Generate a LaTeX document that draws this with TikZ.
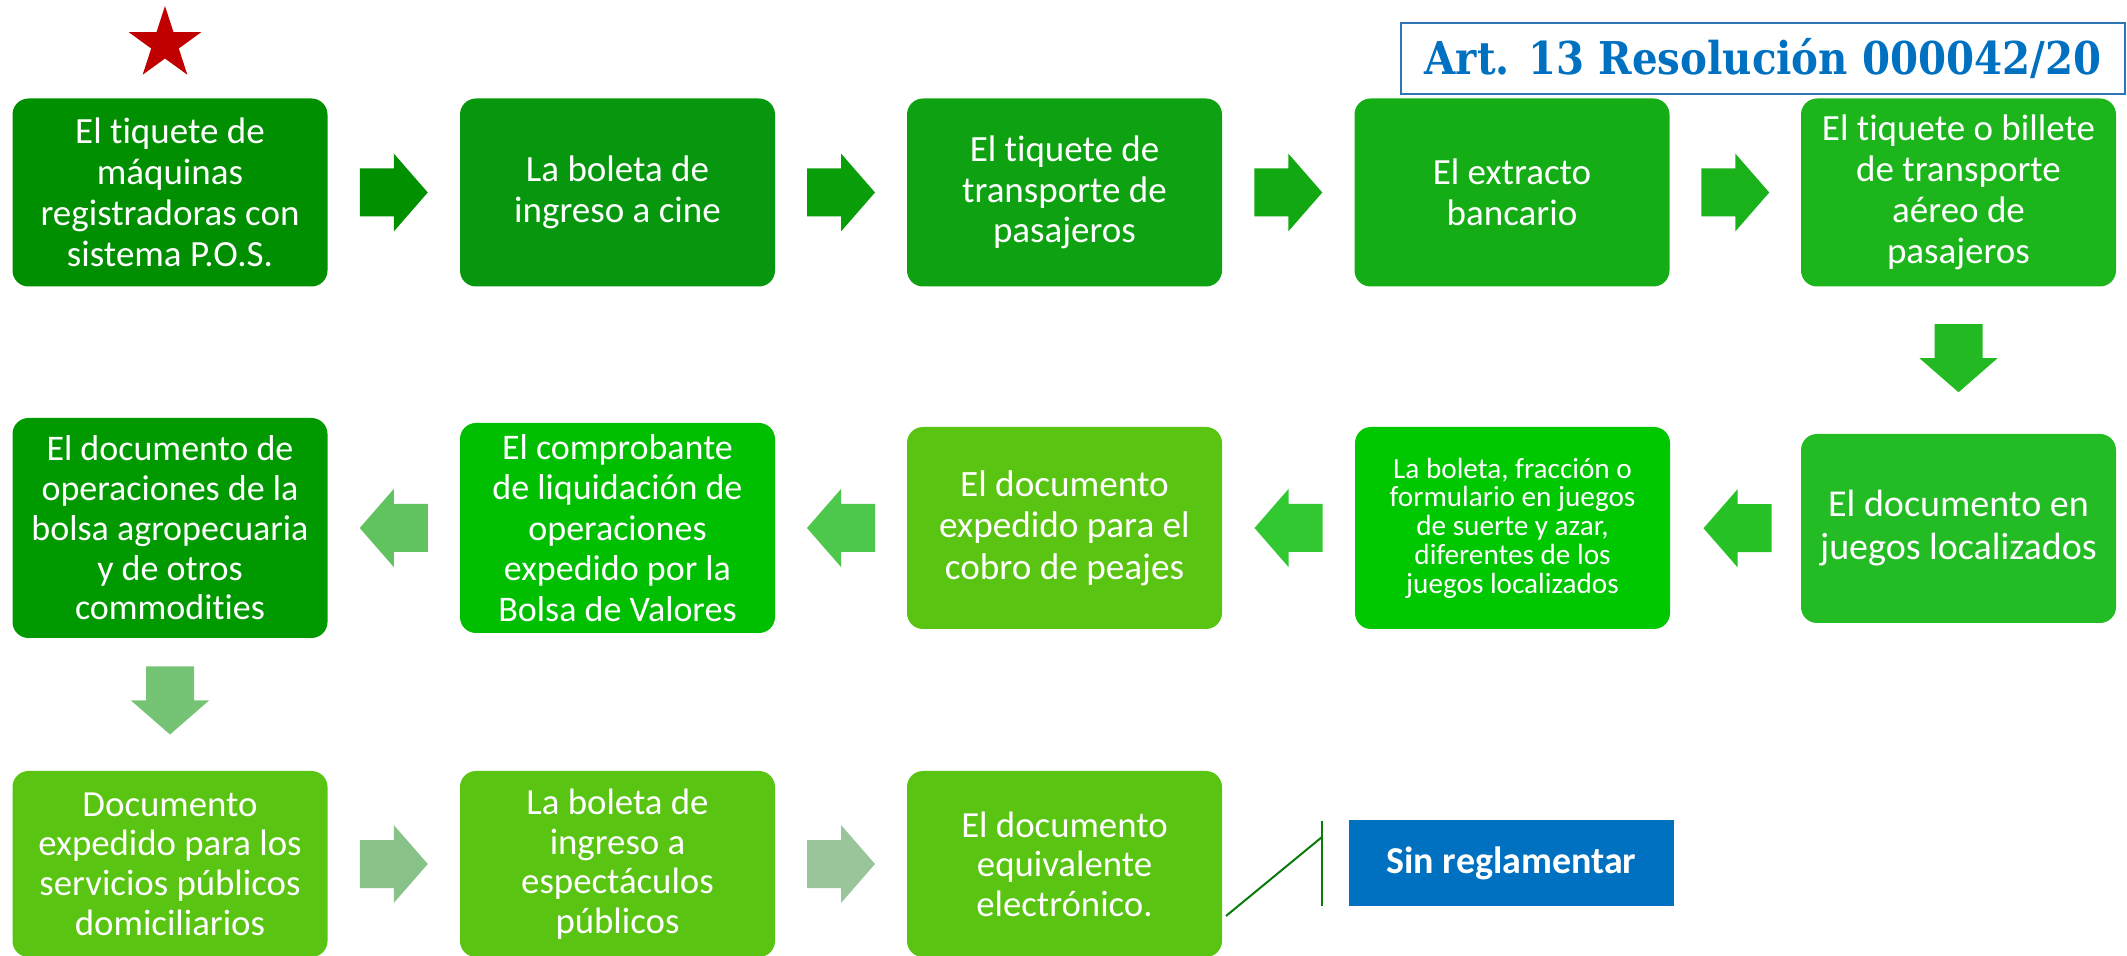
\documentclass[tikz,border=0pt]{standalone}
\usepackage{fontspec}
\usepackage{graphicx}
\setmainfont{Carlito}[Ligatures=NoCommon]
\newfontfamily\titlefont{DejaVu Serif}
\usetikzlibrary{shapes.geometric,calc}
\definecolor{cA1}{HTML}{008F00}
\definecolor{cA2}{HTML}{07970F}
\definecolor{cA3}{HTML}{0EA212}
\definecolor{cA4}{HTML}{15AD16}
\definecolor{cA5}{HTML}{1CB51C}
\definecolor{cB5}{HTML}{24BC24}
\definecolor{cB4}{HTML}{00C800}
\definecolor{cB3}{HTML}{5AC413}
\definecolor{cB2}{HTML}{00BF00}
\definecolor{cB1}{HTML}{009A00}
\definecolor{cC}{HTML}{5AC413}
\definecolor{aA1}{HTML}{009000}
\definecolor{aA2}{HTML}{0A9E0A}
\definecolor{aA3}{HTML}{12A812}
\definecolor{aA4}{HTML}{1AB21A}
\definecolor{aD1}{HTML}{22B922}
\definecolor{aB4}{HTML}{26C226}
\definecolor{aB3}{HTML}{32C832}
\definecolor{aB2}{HTML}{4DC84D}
\definecolor{aB1}{HTML}{60C360}
\definecolor{aD2}{HTML}{75C475}
\definecolor{aC1}{HTML}{88C288}
\definecolor{aC2}{HTML}{9AC49A}
\definecolor{sinblue}{HTML}{0070C0}
\definecolor{titleblue}{HTML}{0070C0}
\definecolor{titleborder}{HTML}{2E75B6}
\definecolor{starred}{HTML}{C00000}
\definecolor{calloutgreen}{HTML}{0A7A0A}
\tikzset{
  box/.style={rounded corners=8pt, minimum width=157.5pt, text=white, align=center,
    inner sep=0pt, font=\fontsize{18.5}{20.4}\selectfont},
  pics/blockarrow/.style={code={
    \fill[#1] (-34,-24) -- (0,-24) -- (0,-39) -- (34,0) -- (0,39) -- (0,24) -- (-34,24) -- cycle;}},
  callout/.style={draw=calloutgreen, line width=1pt}
}
\begin{document}
\begin{tikzpicture}[x=0.5pt,y=-0.5pt]
\useasboundingbox (0,0) rectangle (2127,956);

% star
\node[star, star points=5, star point ratio=2.618, fill=starred, minimum size=38pt, inner sep=0pt] (star) at (165,44) {};

% title
\node[draw=titleborder, line width=0.75pt, minimum width=362pt, minimum height=35.5pt, inner sep=0pt,
  text=titleblue, font=\titlefont\bfseries\fontsize{22.6}{26}\selectfont] (title) at (1763,58.5)
  {\resizebox{338.5pt}{\height}{Art. 13 Resolución 000042/20}};

% row 1
\node[box, fill=cA1, minimum height=94pt] (a1) at (170,192.5) {El tiquete de\\máquinas\\registradoras con\\sistema P.O.S.};
\node[box, fill=cA2, minimum height=94pt] (a2) at (617.5,192.5) {La boleta de\\ingreso a cine};
\node[box, fill=cA3, minimum height=94pt] (a3) at (1064.5,192.5) {El tiquete de\\transporte de\\pasajeros};
\node[box, fill=cA4, minimum height=94pt] (a4) at (1512,192.5) {El extracto\\bancario};
\node[box, fill=cA5, minimum height=94pt] (a5) at (1958.5,192.5) {El tiquete o billete\\de transporte\\aéreo de\\pasajeros};

% row 2
\node[box, fill=cB5, minimum height=94.5pt, font=\fontsize{19}{21.5}\selectfont] (b5) at (1958.5,528.5) {El documento en\\juegos localizados};
\node[box, fill=cB4, minimum height=101pt, font=\fontsize{14.6}{14.4}\selectfont] (b4) at (1512.5,528) {La boleta, fracción o\\formulario en juegos\\de suerte y azar,\\diferentes de los\\juegos localizados};
\node[box, fill=cB3, minimum height=101pt, font=\fontsize{18.6}{20.8}\selectfont] (b3) at (1064.5,528) {El documento\\expedido para el\\cobro de peajes};
\node[box, fill=cB2, minimum height=105pt, font=\fontsize{18}{20.3}\selectfont] (b2) at (617.5,528) {El comprobante\\de liquidación de\\operaciones\\expedido por la\\Bolsa de Valores};
\node[box, fill=cB1, minimum height=110pt, font=\fontsize{18}{19.9}\selectfont] (b1) at (170,528) {El documento de\\operaciones de la\\bolsa agropecuaria\\y de otros\\commodities};

% row 3
\node[box, fill=cC, minimum height=93pt, font=\fontsize{18.4}{19.8}\selectfont] (c1) at (170,864) {Documento\\expedido para los\\servicios públicos\\domiciliarios};
\node[box, fill=cC, minimum height=93pt, font=\fontsize{18.4}{19.8}\selectfont] (c2) at (617.5,864) {La boleta de\\ingreso a\\espectáculos\\públicos};
\node[box, fill=cC, minimum height=93pt, font=\fontsize{18.4}{19.8}\selectfont] (c3) at (1064.5,864) {El documento\\equivalente\\electrónico.};

\node[fill=sinblue, minimum width=162.5pt, minimum height=43pt, inner sep=0pt, text=white,
  font=\bfseries\fontsize{19}{22}\selectfont] (sin) at (1511.5,863) {Sin reglamentar};

% block arrows
\pic at ($(a1.east)!0.5!(a2.west)$) {blockarrow=aA1};
\pic at ($(a2.east)!0.5!(a3.west)$) {blockarrow=aA2};
\pic at ($(a3.east)!0.5!(a4.west)$) {blockarrow=aA3};
\pic at ($(a4.east)!0.5!(a5.west)$) {blockarrow=aA4};
\pic[rotate=-90] at ($(a5.south)!0.5!(b5.north)+(0,-2)$) {blockarrow=aD1};
\pic[rotate=180] at ($(b5.west)!0.5!(b4.east)+(2,0)$) {blockarrow=aB4};
\pic[rotate=180] at ($(b4.west)!0.5!(b3.east)$) {blockarrow=aB3};
\pic[rotate=180] at ($(b3.west)!0.5!(b2.east)$) {blockarrow=aB2};
\pic[rotate=180] at ($(b2.west)!0.5!(b1.east)$) {blockarrow=aB1};
\pic[rotate=-90] at ($(b1.south)!0.5!(c1.north)+(0,-4)$) {blockarrow=aD2};
\pic at ($(c1.east)!0.5!(c2.west)$) {blockarrow=aC1};
\pic at ($(c2.east)!0.5!(c3.west)$) {blockarrow=aC2};

% callout bracket
\coordinate (k0) at (1226,916);
\coordinate (k1) at (1322,837);
\coordinate (k2) at (1322,821);
\coordinate (k3) at (1322,906);
\draw[callout] (k0) -- (k1);
\draw[callout] (k2) -- (k3);
\end{tikzpicture}
\end{document}
